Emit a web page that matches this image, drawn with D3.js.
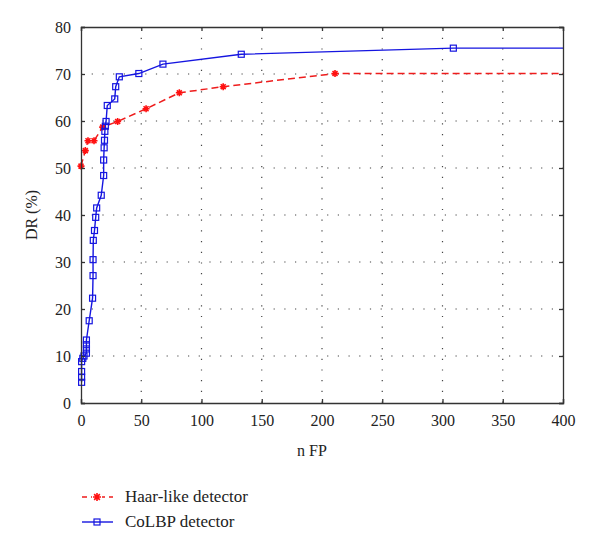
<!DOCTYPE html>
<html>
<head>
<meta charset="utf-8">
<script src="https://cdn.jsdelivr.net/npm/d3@7"></script>
<style>
  body { margin: 0; background: #fff; }
  svg text { font-family: "Times New Roman", "Liberation Serif", "DejaVu Serif", serif; fill: #222; }
</style>
</head>
<body>
<div id="chart"></div>
<script>
// values
var xTicks = [0, 50, 100, 150, 200, 250, 300, 350, 400];
var yTicks = [0, 10, 20, 30, 40, 50, 60, 70, 80];

var haarFP = [0, 3.6, 5.8, 10.8, 18, 30.4, 54, 81.6, 118, 210.8];
var haarDR = [50.4, 53.7, 55.8, 55.8, 58.7, 59.9, 62.6, 66, 67.3, 70.1];

var colbpFP = [0.5, 0.5, 0.5, 0.5, 1.5, 2.5, 4.5, 4.5, 4.5, 4.5, 6.8, 9.6, 10, 10, 10.2, 11.2, 12.2, 13,
  16.8, 18.8, 18.8, 19.2, 19.5, 19.8, 20.2, 20.8, 21.8, 28, 28.8, 31.8, 48, 68, 133, 309];
var colbpDR = [4.4, 5.5, 6.7, 8.8, 9.5, 10.0, 10.6, 11.5, 12.4, 13.4, 17.5, 22.3, 27.1, 30.5, 34.6, 36.7, 39.5, 41.5,
  44.2, 48.4, 51.7, 54.3, 55.9, 57.8, 58.9, 59.9, 63.3, 64.7, 67.3, 69.4, 70.1, 72.1, 74.2, 75.5];

var seriesNames = ['Haar-like detector', 'CoLBP detector'];

var FONT = '"Times New Roman", "Liberation Serif", "DejaVu Serif", serif';

function Chart(container) {
  this.container = container;
  this.margin = {left: 81, top: 27, right: 37, bottom: 146};
  this.w = 600;
  this.h = 549;
  this.init();
}

Chart.prototype.init = function() {
  var m = this.margin;
  this.svg = d3.select(this.container).append('svg')
    .attr('width', this.w)
    .attr('height', this.h)
    .attr('font-family', FONT);

  this.x = d3.scaleLinear().domain([0, 400]).range([m.left, this.w - m.right]);
  this.y = d3.scaleLinear().domain([0, 80]).range([this.h - m.bottom, m.top]);

  this.drawGrid();
  this.drawSeries();
  this.drawAxes();
  this.drawLegend();
}

Chart.prototype.drawGrid = function() {
  var x = this.x, y = this.y;
  var g = this.svg.append('g').attr('class', 'grid')
    .attr('stroke', '#444').attr('stroke-width', 1.2).attr('stroke-dasharray', '1.2,9.5');

  g.selectAll('line.v').data(xTicks.slice(1, -1)).enter().append('line')
    .attr('x1', function(d) { return x(d); }).attr('x2', function(d) { return x(d); })
    .attr('y1', y(80)).attr('y2', y(0));

  g.selectAll('line.h').data(yTicks.slice(1, -1)).enter().append('line')
    .attr('x1', x(0)).attr('x2', x(400))
    .attr('y1', function(d) { return y(d); }).attr('y2', function(d) { return y(d); });
}

Chart.prototype.drawAxes = function() {
  var x = this.x, y = this.y;
  var svg = this.svg;

  // inward ticks on all four sides, like the original box
  var bottom = svg.append('g').attr('transform', 'translate(0,' + y(0) + ')')
    .call(d3.axisBottom(x).tickValues(xTicks).tickSize(-4).tickPadding(12));
  var top = svg.append('g').attr('transform', 'translate(0,' + y(80) + ')')
    .call(d3.axisTop(x).tickValues(xTicks).tickSize(-4).tickFormat(''));
  var left = svg.append('g').attr('transform', 'translate(' + x(0) + ',0)')
    .call(d3.axisLeft(y).tickValues(yTicks).tickSize(-4).tickPadding(10));
  var right = svg.append('g').attr('transform', 'translate(' + x(400) + ',0)')
    .call(d3.axisRight(y).tickValues(yTicks).tickSize(-4).tickFormat(''));

  [bottom, top, left, right].forEach(function(a) {
    a.attr('font-family', FONT);
    a.select('.domain').attr('stroke', '#333').attr('stroke-width', 1.3);
    a.selectAll('.tick line').attr('stroke', '#333').attr('stroke-width', 1.3);
    a.selectAll('text').attr('font-size', 16).attr('fill', '#222');
  });

  svg.append('text')
    .attr('x', 312).attr('y', 456)
    .attr('text-anchor', 'middle')
    .attr('font-size', 16)
    .text('n FP');

  svg.append('text')
    .attr('transform', 'translate(37,' + y(40) + ') rotate(-90)')
    .attr('text-anchor', 'middle')
    .attr('font-size', 16)
    .text('DR (%)');
}

Chart.prototype.asterisk = function(sel, size) {
  var r = size / 2;
  var p = '';
  for (var i = 0; i < 4; i++) {
    var a = i * Math.PI / 4;
    p += 'M' + (-r * Math.cos(a)) + ',' + (-r * Math.sin(a)) + 'L' + (r * Math.cos(a)) + ',' + (r * Math.sin(a));
  }
  sel.append('path').attr('d', p).attr('stroke', '#ff1010').attr('stroke-width', 1.6).attr('fill', 'none');
}

Chart.prototype.drawSeries = function() {
  var x = this.x, y = this.y;
  var self = this;

  var haar = haarFP.map(function(d, i) { return [d, haarDR[i]]; });
  var colbp = colbpFP.map(function(d, i) { return [d, colbpDR[i]]; });

  var line = d3.line()
    .x(function(d) { return x(d[0]); })
    .y(function(d) { return y(d[1]); });

  // both curves run on flat to the right edge of the axes
  var haarLine = haar.concat([[400, haar[haar.length - 1][1]]]);
  var colbpLine = colbp.concat([[400, colbp[colbp.length - 1][1]]]);

  this.svg.append('path')
    .attr('d', line(haarLine))
    .attr('fill', 'none')
    .attr('stroke', '#ee1c1c')
    .attr('stroke-width', 1.5)
    .attr('stroke-dasharray', '7,4');

  this.svg.selectAll('g.haar').data(haar).enter().append('g')
    .attr('class', 'haar')
    .attr('transform', function(d) { return 'translate(' + x(d[0]) + ',' + y(d[1]) + ')'; })
    .each(function() { self.asterisk(d3.select(this), 7); });

  this.svg.append('path')
    .attr('d', line(colbpLine))
    .attr('fill', 'none')
    .attr('stroke', '#1515e0')
    .attr('stroke-width', 1.4);

  this.svg.selectAll('rect.colbp').data(colbp).enter().append('rect')
    .attr('class', 'colbp')
    .attr('x', function(d) { return x(d[0]) - 3; })
    .attr('y', function(d) { return y(d[1]) - 3; })
    .attr('width', 6).attr('height', 6)
    .attr('fill', 'none')
    .attr('stroke', '#1515e0')
    .attr('stroke-width', 1.2);
}

Chart.prototype.drawLegend = function() {
  var svg = this.svg;
  var rows = [{y: 497, color: '#ee1c1c', dash: '5,4'}, {y: 522, color: '#1515e0', dash: null}];

  rows.forEach(function(r, i) {
    svg.append('line')
      .attr('x1', 82).attr('x2', 113).attr('y1', r.y).attr('y2', r.y)
      .attr('stroke', r.color).attr('stroke-width', 1.4)
      .attr('stroke-dasharray', r.dash);
    svg.append('text')
      .attr('x', 125).attr('y', r.y + 5)
      .attr('font-size', 17)
      .text(seriesNames[i]);
  });

  var g = svg.append('g').attr('transform', 'translate(97,497)');
  g.append('rect').attr('x', -5).attr('y', -5).attr('width', 10).attr('height', 10).attr('fill', '#fff');
  this.asterisk(g, 8);

  svg.append('rect')
    .attr('x', 94).attr('y', 519).attr('width', 6).attr('height', 6)
    .attr('fill', 'none').attr('stroke', '#1515e0').attr('stroke-width', 1.2);
}

new Chart('#chart');
</script>
</body>
</html>
